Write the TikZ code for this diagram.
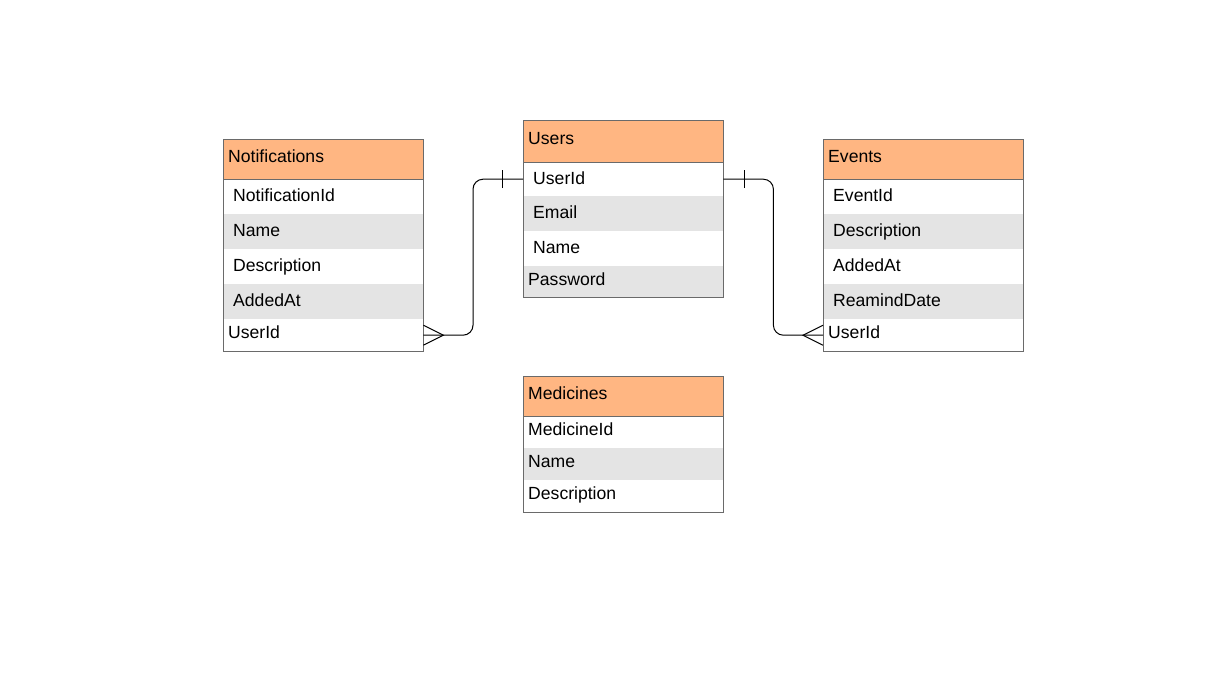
\documentclass[tikz,border=0pt]{standalone}
\usepackage{fontspec}
\setmainfont{Liberation Sans}
\usetikzlibrary{calc}
\definecolor{hdrc}{HTML}{FFB682}
\definecolor{altc}{HTML}{E4E4E4}
\definecolor{edgec}{HTML}{6A6A6A}
\tikzset{
  cell/.style={rectangle, anchor=north west, inner ysep=0pt, align=left,
    font=\fontsize{17.6}{20}\selectfont, text height=13pt, text depth=3pt},
  padA/.style={inner xsep=5pt, text width=190pt, text depth=6pt},
  padB/.style={inner xsep=10pt, text width=180pt},
  frame/.style={draw=edgec, line width=1pt},
  conn/.style={draw=black, line width=1pt, rounded corners=10pt},
  tickline/.style={draw=black, line width=1pt},
}
% name, x, ytop, height, fill, padstyle, text
\newcommand\ercell[7]{\node[cell, fill=#5, #6, minimum height=#4pt] (#1) at (#2,-#3) {#7};}
\begin{document}
\begin{tikzpicture}[x=1pt,y=1pt]
\useasboundingbox[fill=white] (0,0) rectangle (1212,-686);

% Notifications
\ercell{nh}{223}{139}{40}{hdrc}{padA}{Notifications}
\ercell{n1}{223}{179}{35}{white}{padB}{NotificationId}
\ercell{n2}{223}{214}{35}{altc}{padB}{Name}
\ercell{n3}{223}{249}{35}{white}{padB}{Description}
\ercell{n4}{223}{284}{35}{altc}{padB}{AddedAt}
\ercell{n5}{223}{319}{32}{white}{padA}{UserId}
\draw[frame] (nh.north west) rectangle (n5.south east);
\draw[frame] (nh.south west) -- (nh.south east);

% Users
\ercell{uh}{523}{120}{42}{hdrc}{padA}{Users}
\ercell{u1}{523}{162}{34}{white}{padB}{UserId}
\ercell{u2}{523}{196}{35}{altc}{padB}{Email}
\ercell{u3}{523}{231}{35}{white}{padB}{Name}
\ercell{u4}{523}{266}{31}{altc}{padA}{Password}
\draw[frame] (uh.north west) rectangle (u4.south east);
\draw[frame] (uh.south west) -- (uh.south east);

% Events
\ercell{eh}{823}{139}{40}{hdrc}{padA}{Events}
\ercell{e1}{823}{179}{35}{white}{padB}{EventId}
\ercell{e2}{823}{214}{35}{altc}{padB}{Description}
\ercell{e3}{823}{249}{35}{white}{padB}{AddedAt}
\ercell{e4}{823}{284}{35}{altc}{padB}{ReamindDate}
\ercell{e5}{823}{319}{32}{white}{padA}{UserId}
\draw[frame] (eh.north west) rectangle (e5.south east);
\draw[frame] (eh.south west) -- (eh.south east);

% Medicines
\ercell{mh}{523}{376}{40}{hdrc}{padA}{Medicines}
\ercell{m1}{523}{416}{32}{white}{padA}{MedicineId}
\ercell{m2}{523}{448}{32}{altc}{padA}{Name}
\ercell{m3}{523}{480}{32}{white}{padA}{Description}
\draw[frame] (mh.north west) rectangle (m3.south east);
\draw[frame] (mh.south west) -- (mh.south east);

% connectors
\draw[conn] (u1.west) -- ++(-50,0) |- (n5.east);
\draw[tickline] ($(u1.west)+(-21,-9)$) -- ++(0,18);
\draw[tickline] ($(n5.east)+(0,-10)$) -- ($(n5.east)+(20,0)$) -- ($(n5.east)+(0,10)$);

\draw[conn] (u1.east) -- ++(50,0) |- (e5.west);
\draw[tickline] ($(u1.east)+(21,-9)$) -- ++(0,18);
\draw[tickline] ($(e5.west)+(0,-10)$) -- ($(e5.west)+(-20,0)$) -- ($(e5.west)+(0,10)$);
\end{tikzpicture}
\end{document}
